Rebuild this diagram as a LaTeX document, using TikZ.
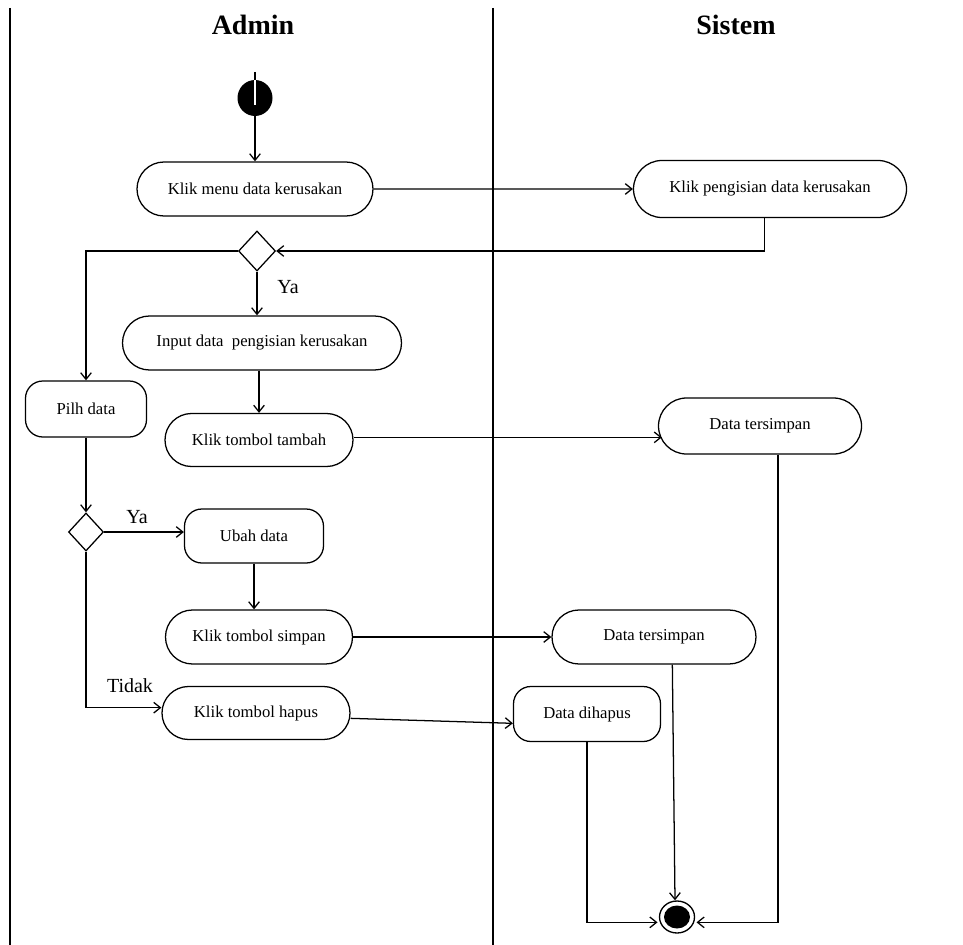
\documentclass[tikz,border=0pt]{standalone}
\usepackage{fontspec}
\setmainfont{Liberation Serif}
\usetikzlibrary{shapes.misc,shapes.geometric,arrows.meta}
\newdimen\pxu \pxu=0.75pt
\begin{document}
\begin{tikzpicture}[x=0.75pt,y=-0.75pt,
  flow/.style={line width=0.95pt, -{Straight Barb[length=5pt,width=8pt]}},
  lane/.style={line width=1pt},
  act/.style={draw, line width=0.95pt, rounded rectangle, minimum height=54\pxu,
    inner sep=0pt, font=\fontsize{12.5}{14}\selectfont},
  actbox/.style={draw, line width=0.95pt, rectangle, rounded corners=13pt,
    minimum height=54\pxu, inner sep=0pt, font=\fontsize{12.5}{14}\selectfont},
  choice/.style={draw, diamond, line width=0.95pt, minimum width=37\pxu,
    minimum height=40\pxu, inner sep=0pt},
  lanetitle/.style={font=\fontsize{21}{24}\selectfont\bfseries},
  guard/.style={font=\fontsize{15}{17}\selectfont, inner sep=0pt}]

\useasboundingbox (0,0) rectangle (963,945);

% swimlane separators and headings
\draw[lane] (10,8) -- (10,945);
\draw[lane] (493,8) -- (493,945);
\node[lanetitle] (tadmin) at (253,25) {Admin};
\node[lanetitle] (tsistem) at (736,25) {Sistem};

% initial node
\coordinate (stem) at (255,72);
\node[fill, ellipse, minimum width=35\pxu, minimum height=36\pxu, inner sep=0pt] (start) at (255,98) {};
\draw[line width=2pt] (stem) -- (start.north);
\draw[white, line width=2pt] (start.north) -- ([yshift=-5pt]start.center);

% activities
\node[act, minimum width=236\pxu] (menu) at (255,189) {Klik menu data kerusakan};
\node[act, minimum width=273\pxu, minimum height=57\pxu] (isi) at (770,189) {Klik pengisian data kerusakan};
\node[choice] (d1) at (257,251) {};
\node[act, minimum width=279\pxu] (input) at (262,343) {Input data\ \ pengisian kerusakan};
\node[actbox, minimum width=121\pxu, minimum height=56\pxu] (pilih) at (86,409) {Pilh data};
\node[act, minimum width=188\pxu, minimum height=53\pxu] (tambah) at (259,440) {Klik tombol tambah};
\node[act, minimum width=203\pxu, minimum height=56\pxu] (simpan1) at (760,426) {Data tersimpan};
\node[choice, minimum width=35\pxu, minimum height=38\pxu] (d2) at (86,532) {};
\node[actbox, minimum width=139\pxu] (ubah) at (254,536) {Ubah data};
\node[act, minimum width=187\pxu] (tsimpan) at (259,637) {Klik tombol simpan};
\node[act, minimum width=204\pxu] (simpan2) at (654,637) {Data tersimpan};
\node[act, minimum width=188\pxu, minimum height=53\pxu] (hapus) at (256,713) {Klik tombol hapus};
\node[actbox, minimum width=147\pxu, minimum height=55\pxu] (dihapus) at (587,714) {Data dihapus};

% final node
\node[draw, ellipse, line width=1pt, minimum width=35\pxu, minimum height=32\pxu, inner sep=0pt] (end) at (677,917) {};
\node[fill, ellipse, minimum width=26\pxu, minimum height=23\pxu, inner sep=0pt] (endcore) at (end.center) {};

% guards
\node[guard] (ya1) at (288,287) {Ya};
\node[guard] (ya2) at (137,517) {Ya};
\node[guard] (tidak) at (130,686) {Tidak};

% control flow
\draw[flow] (start.south) -- (start.south |- menu.north);
\draw[flow] (menu) -- (isi);
\draw[flow] ([xshift=-4pt]isi.south) |- (d1.east);
\draw[flow] (d1.west) -| (pilih.north);
\draw[flow] (d1.south) -- (d1.south |- input.north);
\draw[flow] (tambah.north |- input.south) -- (tambah.north);
\draw[flow] ([yshift=2pt]tambah.east) -- ([yshift=2pt,xshift=3pt]simpan1.west |- tambah.east);
\draw[flow] (pilih.south) -- (d2.north);
\draw[flow] (d2.east) -- (ubah.west |- d2.east);
\draw[flow] (ubah.south) -- (ubah.south |- tsimpan.north);
\draw[flow] (d2.south) |- ([yshift=4pt]hapus.west);
\draw[flow] (tsimpan.east) -- (simpan2.west);
\draw[flow] ([yshift=-4pt]hapus.east) -- ([yshift=-7pt]dihapus.west);
\draw[flow] (dihapus.south) |- ([yshift=-4pt,xshift=-1pt]end.west);
\draw[flow] ([xshift=-3.5pt]end.north |- simpan2.south) -- ([xshift=-1.5pt]end.north);
\draw[flow] ([xshift=13.5pt]simpan1.south) |- ([yshift=-4pt,xshift=1pt]end.east);

\end{tikzpicture}
\end{document}
